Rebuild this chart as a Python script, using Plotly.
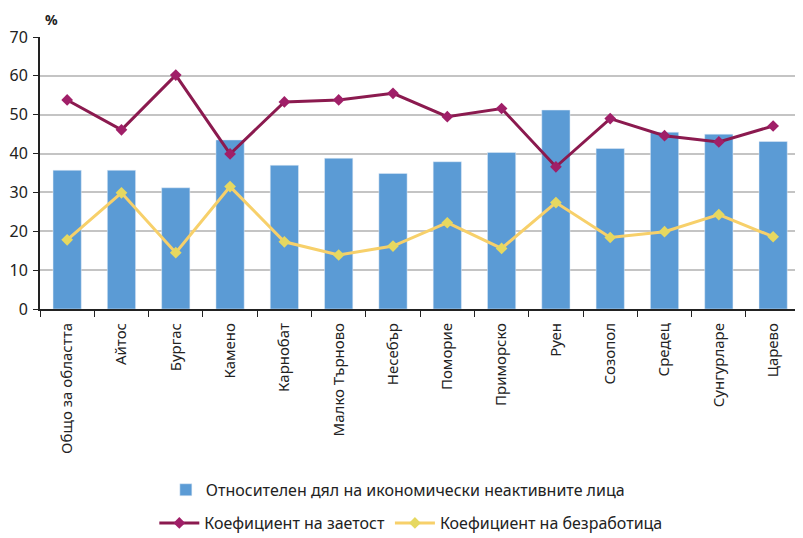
import plotly.graph_objects as go

municipalities = ["Общо за областта", "Айтос", "Бургас", "Камено", "Карнобат",
                  "Малко Търново", "Несебър", "Поморие", "Приморско", "Руен",
                  "Созопол", "Средец", "Сунгурларе", "Царево"]
inactive_share = [35.7, 35.7, 31.2, 43.5, 37.0, 38.8, 34.9, 37.9, 40.3, 51.2,
                  41.3, 45.5, 45.0, 43.1]
employment_rate = [53.8, 46.1, 60.2, 39.9, 53.3, 53.8, 55.5, 49.5, 51.6, 36.6,
                   49.0, 44.6, 43.0, 47.1]
unemployment_rate = [17.8, 29.9, 14.5, 31.5, 17.3, 13.9, 16.2, 22.2, 15.6, 27.4,
                     18.4, 19.9, 24.3, 18.6]

font = "Noto Sans, Liberation Sans, sans-serif"

fig = go.Figure()
fig.add_trace(go.Bar(
    x=municipalities, y=inactive_share,
    name="Относителен дял на икономически неактивните лица",
    marker=dict(color="#5b9bd5"), legend="legend", showlegend=True,
))
fig.add_trace(go.Scatter(
    x=municipalities, y=employment_rate, mode="lines+markers",
    name="Коефициент на заетост",
    line=dict(color="#8b1a4f", width=3),
    marker=dict(symbol="diamond", size=9, color="#a01f68"),
    legend="legend2",
))
fig.add_trace(go.Scatter(
    x=municipalities, y=unemployment_rate, mode="lines+markers",
    name="Коефициент на безработица",
    line=dict(color="#f7d06a", width=3),
    marker=dict(symbol="diamond", size=9, color="#e6d860"),
    legend="legend2",
))

# page body adds an 8px offset, so the figure is 8px smaller on each axis
fig.update_layout(
    width=795, height=530,
    margin=dict(l=32, r=0, t=29, b=229, autoexpand=False),
    plot_bgcolor="white", paper_bgcolor="white",
    font=dict(family=font, size=15, color="#222"),
    bargap=0.48,
    showlegend=True,
    legend=dict(visible=True, orientation="h", x=0.469, xanchor="center",
                y=-0.665, yanchor="middle", font=dict(size=16), itemwidth=30),
    legend2=dict(visible=True, orientation="h", x=0.486, xanchor="center",
                 y=-0.787, yanchor="middle", font=dict(size=16), itemwidth=40),
    xaxis=dict(
        range=[-0.5, 13.55],
        tickangle=-90, showline=True, linecolor="#222", linewidth=2,
        ticks="outside", tickson="boundaries", ticklen=6, tickcolor="#222",
        tickfont=dict(size=15), ticklabelstandoff=6, automargin=False,
    ),
    yaxis=dict(
        range=[0, 70], dtick=10, showline=True, linecolor="#222", linewidth=2,
        ticks="outside", ticklen=5, tickcolor="#222",
        gridcolor="#c4c4c4", gridwidth=2, tickfont=dict(size=16),
        zeroline=False, automargin=False, ticklabelstandoff=2,
    ),
    annotations=[dict(text="<b>%</b>", x=0.004, y=1.065, xref="paper", yref="paper",
                      xanchor="left", yanchor="middle", showarrow=False,
                      font=dict(size=14))],
)

fig.write_html("out.html")
